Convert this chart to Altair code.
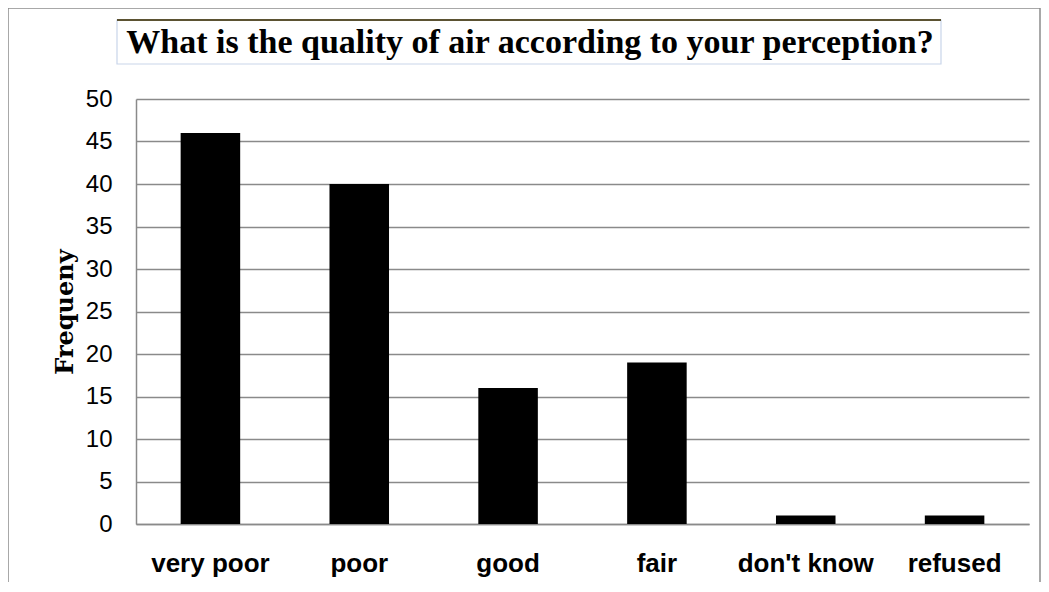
import altair as alt
import pandas as pd

categories = ["very poor", "poor", "good", "fair", "don't know", "refused"]
values = [46, 40, 16, 19, 1, 1]
y_ticks = [0, 5, 10, 15, 20, 25, 30, 35, 40, 45, 50]
title_text = "What is the quality of air according to your perception?"
y_title = "Frequeny"

df = pd.DataFrame({"category": categories, "value": values})
one = alt.Data(values=[{"k": 0}])

W, H = 893, 425
GRID = "#8a8a8a"

bars = alt.Chart(df).mark_bar(color="black").encode(
    x=alt.X("category:N", sort=categories,
            scale=alt.Scale(paddingInner=0.6, paddingOuter=0.3),
            axis=alt.Axis(title=None, labelAngle=0, labelFont="Liberation Sans",
                          labelFontSize=26, labelFontWeight="bold", labelColor="black",
                          labelPadding=26, ticks=False, domainColor=GRID,
                          domainWidth=1.5, grid=False)),
    y=alt.Y("value:Q", scale=alt.Scale(domain=[0, 50], nice=False),
            axis=alt.Axis(title=y_title, values=y_ticks, titleFont="DejaVu Serif",
                          titleFontSize=24, titleFontWeight="bold", titleColor="black",
                          titlePadding=8, labelFont="Liberation Sans", labelFontSize=24,
                          labelColor="black", labelPadding=24, ticks=False,
                          domainColor=GRID, domainWidth=1.5, grid=True,
                          gridColor=GRID, gridWidth=1.5)),
)

outer = alt.Chart(one).mark_rect(fill=None, stroke="#8c8c8c", strokeWidth=1.5).encode(
    x=alt.value(-128), x2=alt.value(904), y=alt.value(-91), y2=alt.value(520))

title_box = alt.Chart(one).mark_rect(fill="white", stroke="#c9d5ea", strokeWidth=1.2).encode(
    x=alt.value(-19), x2=alt.value(805), y=alt.value(-79), y2=alt.value(-35))

title_top = alt.Chart(one).mark_rule(color="#5b5232", strokeWidth=2).encode(
    x=alt.value(-19), x2=alt.value(805), y=alt.value(-79))

title = alt.Chart(one).mark_text(font="Liberation Serif", fontSize=34, fontWeight="bold",
                                 color="black", align="center", baseline="alphabetic").encode(
    x=alt.value(394), y=alt.value(-46), text=alt.value(title_text))

chart = alt.layer(outer, bars, title_box, title_top, title).properties(
    width=W, height=H,
    autosize=alt.AutoSizeParams(type="none"),
    padding={"left": 128, "top": 91, "right": 12, "bottom": 58},
).configure_view(stroke=None)

chart.save("out.html", embed_options={"renderer": "svg", "actions": False})
